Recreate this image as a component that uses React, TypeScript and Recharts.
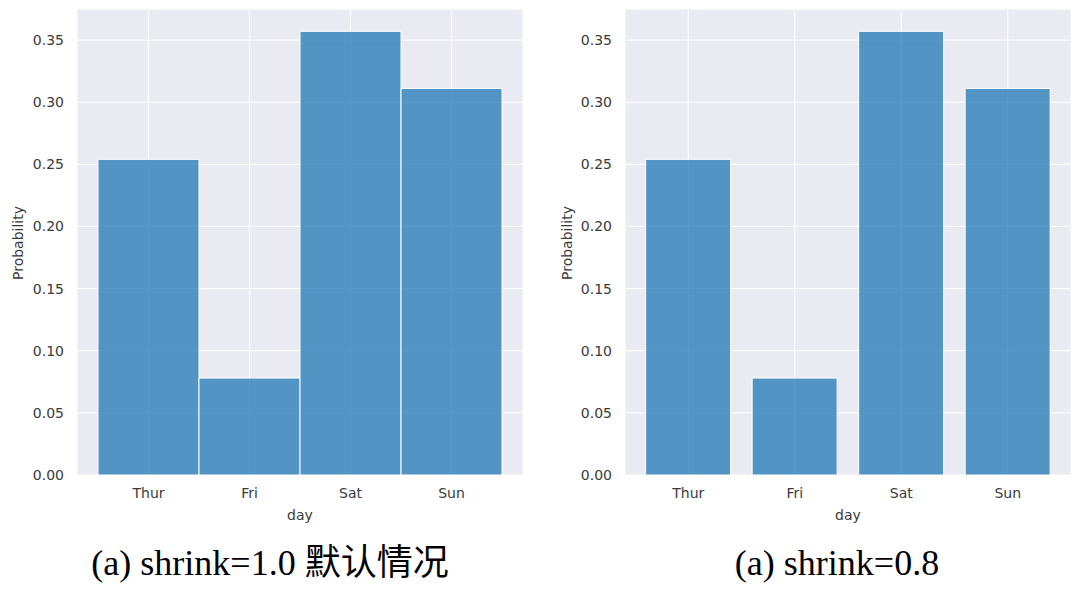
import React from 'react';
import { BarChart, Bar, XAxis, YAxis, CartesianGrid } from 'recharts';

const categories = ['Thur', 'Fri', 'Sat', 'Sun'];
const probabilityShrink10 = [0.254, 0.078, 0.357, 0.311];
const probabilityShrink08 = [0.254, 0.078, 0.357, 0.311];
const yTicks = [0, 0.05, 0.1, 0.15, 0.2, 0.25, 0.3, 0.35];
const captions = ['(a) shrink=1.0 默认情况', '(a) shrink=0.8'];
const xLabel = 'day';
const yLabel = 'Probability';

const tickFont = { fontSize: 14, fill: '#3a3a3a', fontFamily: 'DejaVu Sans' };

type PanelProps = {
  values: number[];
  yAxisWidth: number;
  marginRight: number;
  pad: number;
  gap: string | number;
  yLabelX: number;
};

function Panel({ values, yAxisWidth, marginRight, pad, gap, yLabelX }: PanelProps) {
  const data = categories.map((c, i) => ({ day: c, p: values[i] }));
  const plotLeft = yAxisWidth;
  const plotWidth = 540 - yAxisWidth - marginRight;
  return (
    <BarChart
      width={540}
      height={591}
      data={data}
      margin={{ top: 9, right: marginRight, bottom: 73, left: 0 }}
      barCategoryGap={gap}
    >
      <CartesianGrid fill="#EAEAF2" fillOpacity={1} stroke="#ffffff" strokeWidth={1} />
      <XAxis
        dataKey="day"
        type="category"
        padding={{ left: pad, right: pad }}
        axisLine={false}
        tickLine={false}
        tickSize={0}
        tickMargin={13}
        height={43}
        tick={tickFont}
        label={{
          value: xLabel,
          content: () => (
            <text
              x={plotLeft + plotWidth / 2}
              y={520}
              textAnchor="middle"
              fontSize={14}
              fill="#3a3a3a"
              fontFamily="DejaVu Sans"
            >
              {xLabel}
            </text>
          ),
        }}
      />
      <YAxis
        type="number"
        domain={[0, 0.375]}
        ticks={yTicks}
        tickFormatter={(v: number) => v.toFixed(2)}
        axisLine={false}
        tickLine={false}
        tickSize={0}
        tickMargin={13}
        width={yAxisWidth}
        tick={tickFont}
        label={{
          value: yLabel,
          content: () => (
            <text
              x={yLabelX}
              y={243}
              transform={`rotate(-90 ${yLabelX} 243)`}
              textAnchor="middle"
              dominantBaseline="central"
              fontSize={14}
              fill="#3a3a3a"
              fontFamily="DejaVu Sans"
            >
              {yLabel}
            </text>
          ),
        }}
      />
      <Bar
        dataKey="p"
        fill="#1f77b4"
        fillOpacity={0.75}
        stroke="#ffffff"
        strokeWidth={1}
        isAnimationActive={false}
      />
    </BarChart>
  );
}

const captionStyle: React.CSSProperties = {
  position: 'absolute',
  top: 545,
  fontSize: 36,
  lineHeight: '36px',
  fontFamily: '"Liberation Serif", "Noto Sans CJK SC", serif',
  color: '#000',
  whiteSpace: 'nowrap',
  transform: 'translateX(-50%)',
};

export default function App() {
  return (
    <div
      style={{
        position: 'absolute',
        left: 0,
        top: 0,
        width: 1080,
        height: 591,
        background: '#ffffff',
        overflow: 'hidden',
      }}
    >
      <div style={{ position: 'absolute', left: 0, top: 0 }}>
        <Panel values={probabilityShrink10} yAxisWidth={77} marginRight={17} pad={21} gap={0} yLabelX={18} />
      </div>
      <div style={{ position: 'absolute', left: 540, top: 0 }}>
        <Panel values={probabilityShrink08} yAxisWidth={85} marginRight={9} pad={10} gap="10%" yLabelX={27} />
      </div>
      <div style={{ ...captionStyle, left: 270 }}>{captions[0]}</div>
      <div style={{ ...captionStyle, left: 837 }}>{captions[1]}</div>
    </div>
  );
}
